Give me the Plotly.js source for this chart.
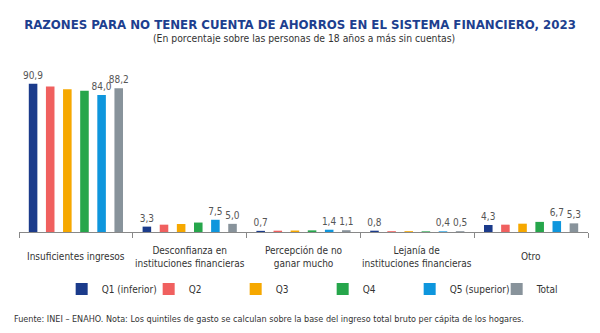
<!DOCTYPE html>
<html><head><meta charset="utf-8">
<script src="https://cdn.plot.ly/plotly-3.0.1.min.js"></script>
<style>body{margin:0;background:#fff}#c{width:600px;height:333px}</style>
</head><body><div id="c"></div>
<script>
const categories = ["Insuficientes ingresos", "Desconfianza en<br>instituciones financieras", "Percepción de no<br>ganar mucho", "Lejanía de<br>instituciones financieras", "Otro"];
const seriesNames = ["Q1 (inferior)", "Q2", "Q3", "Q4", "Q5 (superior)", "Total"];
const q1 = [90.9, 3.3, 0.7, 0.8, 4.3];
const q2 = [89.2, 4.5, 0.8, 0.5, 4.5];
const q3 = [87.6, 4.9, 0.9, 0.5, 5.1];
const q4 = [86.6, 5.8, 1.0, 0.4, 6.2];
const q5 = [84.0, 7.5, 1.4, 0.4, 6.7];
const total = [88.2, 5.0, 1.1, 0.5, 5.3];
const showLabels = [true, false, false, false, true, true];
const colors = ["#1b3b8b", "#f0605f", "#f6a800", "#26a64b", "#0e96dd", "#88939b"];
const values = [q1, q2, q3, q4, q5, total];

const font = "DejaVu Sans Condensed, Liberation Sans, Arial, sans-serif";
const traces = values.map((v, i) => ({
  type: "bar", name: seriesNames[i], x: categories, y: v,
  marker: {color: colors[i]},
  text: v.map(val => showLabels[i] ? val.toFixed(1).replace(".", ",") : ""),
  textposition: "outside", cliponaxis: false, constraintext: "none",
  textfont: {size: 10, color: "#555", family: font},
  hoverinfo: "skip"
}));

const catLabels = categories.map(c => ({
  text: c, xref: "x", yref: "paper", x: c, y: -0.153, xanchor: "center", yanchor: "middle",
  showarrow: false, font: {size: 10, color: "#333", family: font}
}));

const layout = {
  width: 600, height: 333,
  margin: {l: 19, r: 12, t: 69, b: 101, autoexpand: false},
  paper_bgcolor: "#fff", plot_bgcolor: "#fff",
  barmode: "group", bargap: 0.097, bargroupgap: 0.5,
  separators: ", ",
  font: {family: font, color: "#333"},
  title: {text: "<b>RAZONES PARA NO TENER CUENTA DE AHORROS EN EL SISTEMA FINANCIERO, 2023</b>", x: 0.5, xanchor: "center", y: 0.928, yanchor: "middle", font: {size: 13.1, color: "#1d3f8f", family: font}},
  xaxis: {tickson: "boundaries", ticks: "outside", ticklen: 5, tickcolor: "#888", showline: true, linecolor: "#888", linewidth: 1, showticklabels: false, automargin: false, fixedrange: true},
  yaxis: {range: [0, 100], visible: false, fixedrange: true},
  showlegend: true,
  legend: {orientation: "h", x: 0.075, xanchor: "left", y: -0.35, yanchor: "middle", font: {size: 10, color: "#333", family: font}, entrywidth: 42, entrywidthmode: "pixels", traceorder: "normal"},
  annotations: catLabels.concat([
    {text: "(En porcentaje sobre las personas de 18 años a más sin cuentas)", xref: "paper", yref: "paper", x: 0.5, xanchor: "center", y: 1.19, yanchor: "middle", showarrow: false, font: {size: 10.3, color: "#333", family: font}},
    {text: "Fuente: INEI – ENAHO. Nota: Los quintiles de gasto se calculan sobre la base del ingreso total bruto per cápita de los hogares.", xref: "paper", yref: "paper", x: -0.012, xanchor: "left", y: -0.534, yanchor: "middle", showarrow: false, font: {size: 9, color: "#333", family: font}}
  ])
};
Plotly.newPlot("c", traces, layout, {staticPlot: true, displayModeBar: false});
</script></body></html>
